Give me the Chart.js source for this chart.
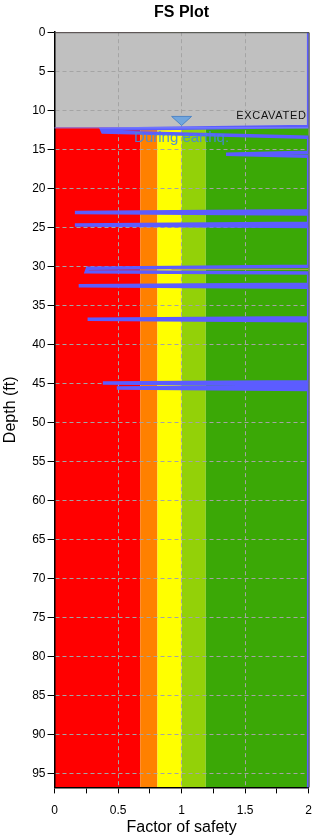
<!DOCTYPE html>
<html>
<head>
<meta charset="utf-8">
<script src="https://cdn.jsdelivr.net/npm/chart.js@4"></script>
<style>
  body { margin: 0; background: #fff; }
  canvas { display: block; }
</style>
</head>
<body>
<canvas id="fsChart" width="322" height="837"></canvas>
<script>
// factor of safety vs depth
const fsValues    = [2, 2, 0.37, 0.38, 2, 2, 1.35, 2, 2, 0.16, 2, 2, 0.16, 2, 2, 0.26, 0.25, 2, 2, 0.19, 2, 2, 0.26, 2, 2, 0.38, 2, 2, 0.49, 2, 2];
const depthValues = [0, 12.1, 12.45, 12.8, 13.45, 15.4, 15.65, 15.9, 22.9, 23.1, 23.3, 24.5, 24.7, 24.9, 30.0, 30.25, 30.7, 30.85, 32.3, 32.5, 32.7, 36.6, 36.8, 37.0, 44.8, 44.95, 45.15, 45.4, 45.6, 45.8, 96.8];

// thin line under the main curve around 30 ft
const thinFs    = [0.92, 2];
const thinDepth = [30.4, 30.4];

// FS colour bands
const bandEdges  = [0, 0.675, 0.81, 1.0, 1.19, 2];
const bandColors = ["#ff0000", "#ff8000", "#ffff00", "#93d108", "#3ba806"];

const excavatedDepth = 12.2;
const waterTableFs = 1;
const waterTableDepth = 11.95;

const depthTicks = [0, 5, 10, 15, 20, 25, 30, 35, 40, 45, 50, 55, 60, 65, 70, 75, 80, 85, 90, 95];
const fsTicks = [0, 0.25, 0.5, 0.75, 1, 1.25, 1.5, 1.75, 2];
const fsLabels = ["0", "", "0.5", "", "1", "", "1.5", "", "2"];

const fontFam = "'Liberation Sans', Arial, sans-serif";

const mainPoints = fsValues.map((v, i) => ({x: v, y: depthValues[i]}));
const thinPoints = thinFs.map((v, i) => ({x: v, y: thinDepth[i]}));

const bandsPlugin = {
  id: "bands",
  beforeDraw(chart) {
    const {ctx, chartArea: a, scales: {x, y}} = chart;
    ctx.save();
    for (let i = 0; i < bandColors.length; i++) {
      const x0 = x.getPixelForValue(bandEdges[i]);
      const x1 = x.getPixelForValue(bandEdges[i + 1]);
      ctx.fillStyle = bandColors[i];
      ctx.fillRect(x0, a.top, x1 - x0, a.bottom - a.top);
    }
    const ye = y.getPixelForValue(excavatedDepth);
    ctx.fillStyle = "#c0c0c0";
    ctx.fillRect(a.left, a.top, a.right - a.left, ye - a.top);
    ctx.restore();
  },
  afterDatasetsDraw(chart) {
    const {ctx, chartArea: a, scales: {x, y}} = chart;
    ctx.save();
    // excavation boundary
    const ye = y.getPixelForValue(excavatedDepth);
    ctx.strokeStyle = "#7b86ff";
    ctx.lineWidth = 1;
    ctx.beginPath();
    ctx.moveTo(a.left, ye + 0.5);
    ctx.lineTo(a.right, ye + 0.5);
    ctx.stroke();

    ctx.font = "11px " + fontFam;
    ctx.letterSpacing = "0.7px";
    ctx.fillStyle = "#111";
    ctx.textAlign = "right";
    ctx.textBaseline = "middle";
    ctx.fillText("EXCAVATED", a.right - 2, y.getPixelForValue(10.7));
    ctx.letterSpacing = "0px";

    // water table marker
    const wx = x.getPixelForValue(waterTableFs);
    const wy = y.getPixelForValue(waterTableDepth);
    ctx.fillStyle = "#72a6dd";
    ctx.strokeStyle = "#4f86c6";
    ctx.beginPath();
    ctx.moveTo(wx - 10, wy - 9);
    ctx.lineTo(wx + 10, wy - 9);
    ctx.lineTo(wx, wy);
    ctx.closePath();
    ctx.fill();
    ctx.stroke();

    ctx.font = "15px " + fontFam;
    ctx.fillStyle = "rgba(70,135,220,0.9)";
    ctx.textAlign = "center";
    ctx.fillText("During earthq.", wx, y.getPixelForValue(13.6));

    // frame
    ctx.strokeStyle = "#444";
    ctx.beginPath();
    ctx.moveTo(a.left, a.top + 0.5);
    ctx.lineTo(a.right + 0.5, a.top + 0.5);
    ctx.lineTo(a.right + 0.5, a.bottom);
    ctx.stroke();
    ctx.restore();
  }
};

new Chart(document.getElementById("fsChart"), {
  type: "scatter",
  data: {
    datasets: [
      {
        data: thinPoints,
        showLine: true,
        borderColor: "#b8a24c",
        borderWidth: 1,
        pointRadius: 0
      },
      {
        data: mainPoints,
        showLine: true,
        borderColor: "#5c5cff",
        borderWidth: 3.5,
        pointRadius: 0
      }
    ]
  },
  options: {
    responsive: false,
    animation: false,
    devicePixelRatio: 1,
    layout: { padding: { left: 0, right: 13, top: 0, bottom: 0 } },
    plugins: {
      legend: { display: false },
      tooltip: { enabled: false },
      title: {
        display: true,
        fullSize: false,
        text: "FS Plot",
        color: "#000",
        font: { family: fontFam, size: 16, weight: "bold" },
        padding: { top: 3, bottom: 10 }
      }
    },
    scales: {
      x: {
        type: "linear",
        min: 0,
        max: 2,
        afterBuildTicks: s => { s.ticks = fsTicks.map(v => ({value: v})); },
        ticks: {
          color: "#000",
          font: { family: fontFam, size: 12 },
          padding: 10,
          maxRotation: 0,
          autoSkip: false,
          callback: (v, i) => fsLabels[i]
        },
        grid: {
          color: c => [0.5, 1, 1.5].includes(c.tick.value) ? "#a4a4a4" : "rgba(0,0,0,0)",
          tickColor: "#000",
          tickLength: 6,
          lineWidth: 1
        },
        border: { color: "#000", width: 1.5, dash: [4, 3] },
        title: {
          display: true,
          text: "Factor of safety",
          color: "#000",
          font: { family: fontFam, size: 16 },
          padding: { top: -10, bottom: 0 }
        }
      },
      y: {
        type: "linear",
        reverse: true,
        min: 0,
        max: 96.8,
        afterBuildTicks: s => { s.ticks = depthTicks.map(v => ({value: v})); },
        ticks: {
          color: "#000",
          font: { family: fontFam, size: 12 },
          padding: 2,
          autoSkip: false
        },
        grid: {
          color: c => c.tick.value === 0 ? "rgba(0,0,0,0)" : "#a4a4a4",
          tickColor: "#000",
          tickLength: 7,
          lineWidth: 1
        },
        border: { color: "#000", width: 1.5, dash: [4, 3] },
        title: {
          display: true,
          text: "Depth (ft)",
          color: "#000",
          font: { family: fontFam, size: 16 },
          padding: { top: 1, bottom: 10 }
        }
      }
    }
  },
  plugins: [bandsPlugin]
});
</script>
</body>
</html>
